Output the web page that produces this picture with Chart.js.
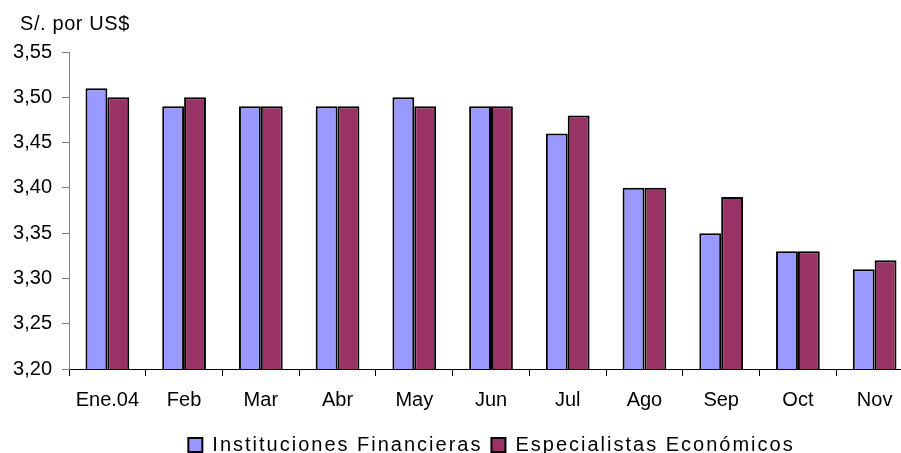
<!DOCTYPE html>
<html>
<head>
<meta charset="utf-8">
<script src="https://cdn.jsdelivr.net/npm/chart.js@4/dist/chart.umd.min.js"></script>
<style>
  html, body { margin: 0; padding: 0; background: #fff; overflow: hidden; }
  #wrap { position: absolute; left: 0; top: 0; width: 920px; height: 461px; }
</style>
</head>
<body>
<div id="wrap"><canvas id="c"></canvas></div>
<script>
const categories = ['Ene.04', 'Feb', 'Mar', 'Abr', 'May', 'Jun', 'Jul', 'Ago', 'Sep', 'Oct', 'Nov'];
const institucionesFinancieras = [3.51, 3.49, 3.49, 3.49, 3.50, 3.49, 3.46, 3.40, 3.35, 3.33, 3.31];
const especialistasEconomicos = [3.50, 3.50, 3.49, 3.49, 3.49, 3.49, 3.48, 3.40, 3.39, 3.33, 3.32];
const seriesNames = ['Instituciones Financieras', 'Especialistas Económicos'];
const unitLabel = 'S/. por US$';
const yMin = 3.20, yMax = 3.55, yStep = 0.05;

const FONT = 'Arial, "Liberation Sans", sans-serif';
Chart.defaults.font.family = FONT;
Chart.defaults.font.size = 20;
Chart.defaults.color = '#000';

const unitPlugin = {
  id: 'unitLabel',
  afterDraw(chart) {
    const ctx = chart.ctx;
    ctx.save();
    ctx.font = '20px ' + FONT;
    ctx.letterSpacing = '0.6px';
    ctx.fillStyle = '#000';
    ctx.textAlign = 'left';
    ctx.textBaseline = 'middle';
    ctx.fillText(unitLabel, 20, 24);
    ctx.restore();
  }
};

// Legend text in the reference is slightly letter-spaced, and the legend sits right of centre
const legendTweak = {
  id: 'legendTweak',
  beforeUpdate(chart) {
    const lg = chart.legend;
    if (lg && !lg._tweaked) {
      lg._tweaked = true;
      const wrap = (name) => {
        const orig = lg[name];
        lg[name] = function () {
          const ctx = this.ctx;
          ctx.save();
          ctx.letterSpacing = '2px';
          const r = orig.apply(this, arguments);
          ctx.restore();
          return r;
        };
      };
      wrap('fit');
      wrap('draw');
    }
  },
  afterLayout(chart) {
    const lg = chart.legend;
    if (lg) { lg.left += 35; lg.right += 35; lg.top += 4; lg.bottom += 4; }
  }
};

new Chart(document.getElementById('c'), {
  type: 'bar',
  data: {
    labels: categories,
    datasets: [
      { label: seriesNames[0], data: institucionesFinancieras, backgroundColor: '#9999FF', borderColor: '#000', borderWidth: 2, borderSkipped: false },
      { label: seriesNames[1], data: especialistasEconomicos, backgroundColor: '#993366', borderColor: '#000', borderWidth: 2, borderSkipped: false }
    ]
  },
  options: {
    responsive: true,
    maintainAspectRatio: false,
    animation: false,
    layout: { padding: { top: 52, left: 0, right: 7, bottom: 0 } },
    datasets: { bar: { categoryPercentage: 0.57, barPercentage: 1.0 } },
    plugins: {
      legend: {
        position: 'bottom',
        labels: { boxWidth: 14, boxHeight: 14, padding: 9, color: '#000', font: { size: 20 } }
      },
      tooltip: { enabled: false },
      title: { display: false }
    },
    scales: {
      x: {
        offset: true,
        grid: { display: true, offset: true, drawOnChartArea: false, tickLength: 7, color: '#000', lineWidth: 1 },
        border: { display: true, color: '#000', width: 1 },
        ticks: { padding: 12, color: '#000', font: { size: 20 }, maxRotation: 0, autoSkip: false },
        afterFit(scale) { scale.height = 53; }
      },
      y: {
        min: yMin,
        max: yMax,
        grid: { display: true, drawOnChartArea: false, tickLength: 7, color: '#808080', lineWidth: 1 },
        border: { display: true, color: '#808080', width: 1 },
        ticks: {
          stepSize: yStep,
          padding: 10,
          color: '#000',
          font: { size: 20 },
          callback: (v) => Number(v).toFixed(2).replace('.', ',')
        },
        afterFit(scale) { scale.width = 69; }
      }
    }
  },
  plugins: [unitPlugin, legendTweak]
});
</script>
</body>
</html>
